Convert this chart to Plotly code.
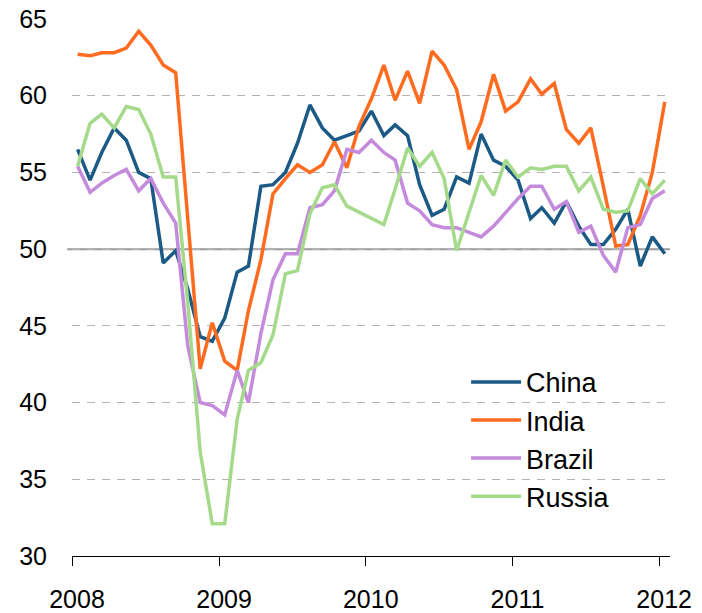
import pandas as pd
import plotly.graph_objects as go

# Monthly observations, Jan 2008 - Jan 2012
months = pd.date_range("2008-01-01", periods=49, freq="MS") + pd.Timedelta(days=14)

china = [56.5, 54.5, 56.3, 57.9, 57.1, 55.0, 54.6, 49.1, 49.9, 47.4, 44.3, 44.0, 45.5,
         48.5, 48.9, 54.1, 54.2, 55.0, 56.9, 59.4, 57.9, 57.1, 57.4, 57.7, 59.0,
         57.4, 58.1, 57.4, 54.2, 52.2, 52.6, 54.7, 54.3, 57.5, 55.8, 55.4, 54.5,
         52.0, 52.7, 51.7, 53.1, 51.5, 50.3, 50.3, 51.3, 52.6, 48.9, 50.8, 49.7]
india = [62.7, 62.6, 62.8, 62.8, 63.1, 64.2, 63.3, 62.0, 61.5, 51.9, 42.2, 45.2, 42.7,
         42.1, 46.0, 49.3, 53.6, 54.6, 55.5, 55.0, 55.5, 57.0, 55.3, 58.0, 59.8,
         62.0, 59.7, 61.6, 59.5, 62.9, 62.0, 60.4, 56.5, 58.3, 61.4, 59.0, 59.6,
         61.1, 60.1, 60.8, 57.8, 56.9, 57.9, 54.1, 50.2, 50.3, 52.2, 55.0, 59.6]
brazil = [55.4, 53.7, 54.3, 54.8, 55.2, 53.8, 54.6, 53.0, 51.7, 43.7, 40.0, 39.8, 39.2,
          42.1, 40.0, 44.5, 48.0, 49.7, 49.7, 52.7, 52.9, 53.8, 56.5, 56.3, 57.1,
          56.3, 55.8, 53.0, 52.5, 51.6, 51.4, 51.4, 51.1, 50.8, 51.5, 52.4, 53.3,
          54.1, 54.1, 52.6, 53.1, 51.1, 51.5, 49.6, 48.5, 51.4, 51.6, 53.3, 53.8]
russia = [55.4, 58.2, 58.8, 57.9, 59.3, 59.1, 57.5, 54.7, 54.7, 46.5, 36.8, 32.1, 32.1,
          38.9, 42.1, 42.6, 44.4, 48.4, 48.6, 52.3, 54.0, 54.2, 52.8, 52.4, 52.0,
          51.6, 53.9, 56.6, 55.4, 56.3, 54.6, 49.9, 52.4, 54.8, 53.5, 55.8, 54.7,
          55.3, 55.2, 55.4, 55.4, 53.8, 54.7, 52.6, 52.4, 52.5, 54.6, 53.6, 54.5]

series_names = ["China", "India", "Brazil", "Russia"]
series_values = [china, india, brazil, russia]
series_colors = ["#1C5A86", "#FF6B1F", "#C48ADC", "#A5DA8B"]

year_ticks = ["2008-01-01", "2009-01-01", "2010-01-01", "2011-01-01", "2012-01-01"]
year_labels = ["2008", "2009", "2010", "2011", "2012"]
y_ticks = [30, 35, 40, 45, 50, 55, 60, 65]

FONT = "Liberation Sans, Arial, sans-serif"

fig = go.Figure()
for name, vals, col in zip(series_names, series_values, series_colors):
    fig.add_trace(go.Scatter(x=months, y=vals, mode="lines", name=name,
                             line=dict(color=col, width=3.5)))

fig.add_shape(type="line", xref="paper", yref="y", x0=-0.008, x1=1, y0=50, y1=50,
              line=dict(color="#999999", width=2), layer="between")

fig.update_layout(
    template="none",
    width=702, height=613,
    margin=dict(l=72, r=32, t=19, b=57, pad=0, autoexpand=False),
    paper_bgcolor="white", plot_bgcolor="white",
    font=dict(family=FONT, color="black", size=25),
    showlegend=True,
    legend=dict(x=0.659, y=0.369, xanchor="left", yanchor="top",
                font=dict(size=27, family=FONT), bgcolor="rgba(0,0,0,0)",
                borderwidth=0, itemwidth=50, tracegroupgap=0),
    xaxis=dict(type="date", range=["2008-01-01", "2012-01-28"],
               tickvals=year_ticks, ticktext=year_labels,
               showline=True, linecolor="black", linewidth=1,
               ticks="outside", ticklen=9, tickcolor="black", tickwidth=1,
               showgrid=False, zeroline=False, ticklabelstandoff=12,
               ticklabelshift=5,
               automargin=False, tickfont=dict(size=25, family=FONT)),
    yaxis=dict(range=[30, 65], tickvals=y_ticks, showgrid=True,
               gridcolor="#B3B3B3", gridwidth=1, griddash="8px,7px",
               zeroline=False, showline=False, ticks="",
               ticklabelstandoff=24, automargin=False,
               tickfont=dict(size=25, family=FONT)),
)

fig.write_html("out.html", config={"displayModeBar": False},
               post_script="document.body.style.margin='0';document.body.style.overflow='hidden';")
